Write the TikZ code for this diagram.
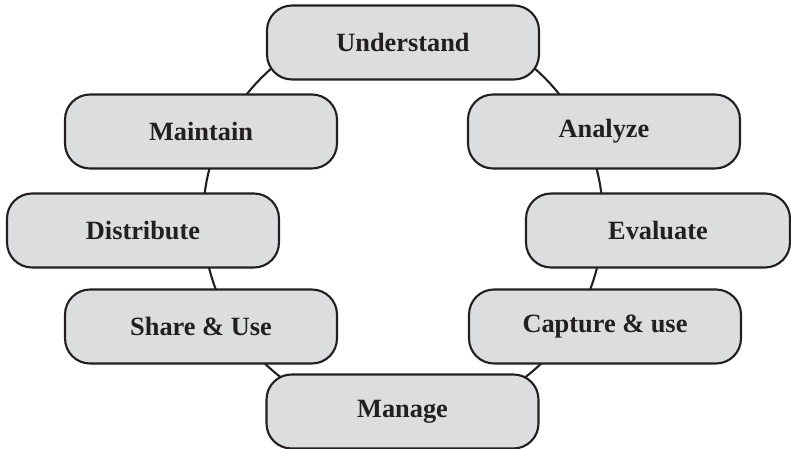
\documentclass[tikz,border=0pt]{standalone}
\usepackage{fontspec}
\setmainfont{Liberation Serif}
\definecolor{boxfill}{RGB}{220,221,223}
\definecolor{ink}{RGB}{35,31,32}
\begin{document}
\begin{tikzpicture}[x=0.02cm,y=-0.02cm,
  stage/.style={draw=ink,fill=boxfill,line width=1.2pt,rounded corners=0.5cm,
    minimum width=5.44cm,minimum height=1.48cm,inner sep=0pt,
    font=\fontsize{15}{18}\selectfont\bfseries,text=ink},
  ring/.style={draw=ink,line width=1.2pt}]
\useasboundingbox (0,0) rectangle (791,449);
% cycle ring behind the stages
\coordinate (hub) at (403,219);
\draw[ring] (hub) circle [radius=4cm];
% stages
\node[stage] (understand) at (403,42.5) {Understand};
\node[stage] (analyze) at (604,131.5) {Analyze};
\node[stage,minimum width=5.28cm] (evaluate) at (658,230.5) {Evaluate};
\node[stage] (capture) at (605,326.5) {Capture \& use};
\node[stage] (manage) at (402.5,411.5) {Manage};
\node[stage] (share) at (201,326.5) {Share \& Use};
\node[stage] (distribute) at (143,230.5) {Distribute};
\node[stage] (maintain) at (201,131.5) {Maintain};
\end{tikzpicture}
\end{document}
